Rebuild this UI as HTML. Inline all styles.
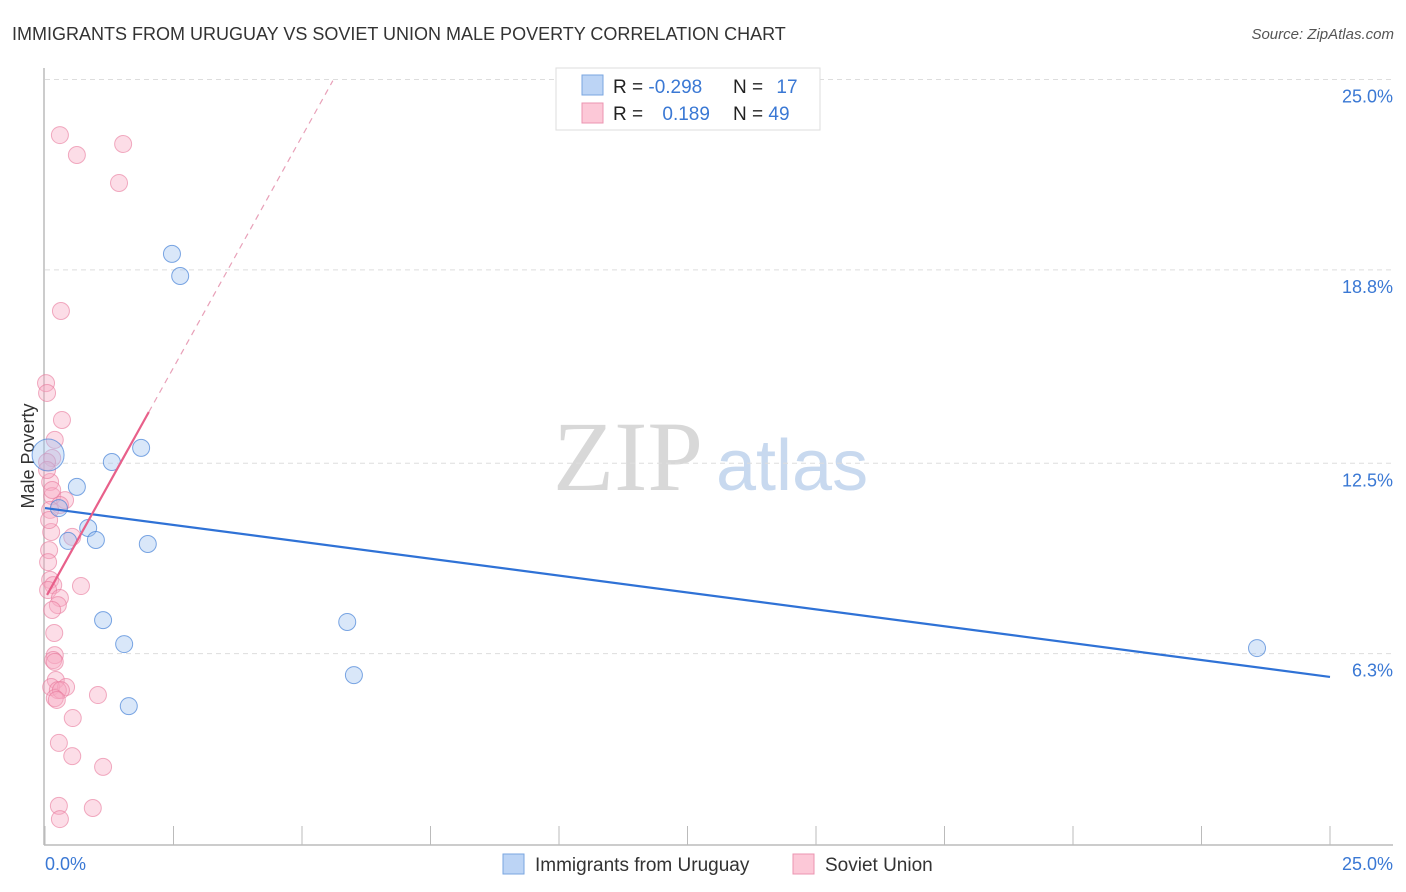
<!DOCTYPE html>
<html><head><meta charset="utf-8"><style>
body{margin:0;background:#fff;font-family:"Liberation Sans",sans-serif;}
svg{display:block}
</style></head><body>
<svg id="chart" width="1406" height="892" xmlns="http://www.w3.org/2000/svg">
<text x="12" y="40" font-size="18" fill="#333">IMMIGRANTS FROM URUGUAY VS SOVIET UNION MALE POVERTY CORRELATION CHART</text>
<text x="1394" y="39" font-size="15" fill="#555" font-style="italic" text-anchor="end">Source: ZipAtlas.com</text>
<g>
<text x="553" y="490" font-size="100" font-family="Liberation Serif,serif" fill="#d8d8d8">ZIP</text>
<text x="716" y="490" font-size="72" fill="#c8d9ef">atlas</text>
</g>
<g id="grid"></g>
<line x1="44" y1="68" x2="44" y2="845" stroke="#bbb" stroke-width="1.5"/>
<line x1="44" y1="845" x2="1393" y2="845" stroke="#bbb" stroke-width="1.5"/>
<g id="xticks"></g>
<g id="ylabels"></g>
<text x="34" y="456" font-size="18" fill="#333" text-anchor="middle" transform="rotate(-90 34 456)">Male Poverty</text>
<text x="45" y="870" font-size="18" fill="#3a78d4">0.0%</text>
<text x="1393" y="870" font-size="18" fill="#3a78d4" text-anchor="end">25.0%</text>
<g id="pts"></g>
<g id="lines"></g>
<g>
<rect x="556" y="68" width="264" height="62" fill="#fff" stroke="#ddd"/>
<rect x="582" y="75" width="21" height="20" fill="#bcd4f5" stroke="#7aa6e0"/>
<rect x="582" y="103" width="21" height="20" fill="#fcc8d7" stroke="#eb94b0"/>
<text x="613" y="93" font-size="19" fill="#222">R = <tspan fill="#3a78d4">-0.298</tspan></text>
<text x="733" y="93" font-size="19" fill="#222">N = <tspan fill="#3a78d4" dx="8">17</tspan></text>
<text x="613" y="120" font-size="19" fill="#222">R = <tspan fill="#3a78d4" dx="14">0.189</tspan></text>
<text x="733" y="120" font-size="19" fill="#222">N = <tspan fill="#3a78d4">49</tspan></text>
</g>
<g>
<rect x="503" y="854" width="21" height="20" fill="#bcd4f5" stroke="#7aa6e0"/>
<text x="535" y="871" font-size="19" fill="#333">Immigrants from Uruguay</text>
<rect x="793" y="854" width="21" height="20" fill="#fcc8d7" stroke="#eb94b0"/>
<text x="825" y="871" font-size="19" fill="#333">Soviet Union</text>
</g>
</svg>
<script>
const yTicks=[6.3,12.5,18.8,25.0];
const xTickVals=[0,2.5,5,7.5,10,12.5,15,17.5,20,22.5,25];
const blueX=[2.47,2.63,1.87,1.30,0.62,0.27,0.84,0.45,0.99,2.00,1.13,1.54,5.88,6.01,1.63,23.58,0.06];
const blueY=[19.32,18.60,13.0,12.54,11.73,11.04,10.39,9.97,10.0,9.87,7.39,6.61,7.33,5.60,4.59,6.48,12.77];
const pinkX=[0.29,0.62,1.52,1.44,0.31,0.02,0.04,0.33,0.19,0.14,0.10,0.14,0.39,0.29,0.10,0.53,0.12,0.08,0.06,0.10,0.16,0.70,0.06,0.29,0.25,0.14,0.18,0.19,0.16,0.19,0.21,0.12,0.41,0.25,0.31,1.03,0.19,0.23,0.54,0.27,0.53,1.13,0.27,0.93,0.29,0.04,0.04,0.08,0.14];
const pinkY=[23.19,22.54,22.90,21.63,17.46,15.11,14.79,13.91,13.26,12.67,11.89,11.43,11.30,11.14,10.98,10.10,10.26,9.67,9.28,8.70,8.53,8.50,8.37,8.11,7.88,7.72,6.97,6.25,6.09,6.03,5.44,5.21,5.21,5.11,5.11,4.95,4.85,4.79,4.20,3.39,2.96,2.61,1.34,1.27,0.91,12.54,12.28,10.65,11.63];
const blueTrend=[[0,11.04],[25,5.54]];
const pinkTrend=[[0.04,8.21],[2.02,14.17]];
const pinkDash=[[2.02,14.17],[5.6,24.96]];
const NS='http://www.w3.org/2000/svg';
const X=v=>45+v*51.4, Y=v=>847-v*30.7;
function mk(tag,attrs,parent){const e=document.createElementNS(NS,tag);for(const k in attrs)e.setAttribute(k,attrs[k]);document.getElementById(parent).appendChild(e);return e;}
yTicks.forEach(t=>{
 const l=mk('line',{x1:45,x2:1393,y1:Y(t),y2:Y(t),stroke:'#ddd','stroke-dasharray':'5,4'},'grid');
 
 
 const tx=mk('text',{x:1393,y:Y(t)+23,'font-size':18,fill:'#3a78d4','text-anchor':'end'},'ylabels');
 tx.textContent=t.toFixed(1)+'%';
 
 
});
xTickVals.forEach(t=>{
 const l=mk('line',{x1:X(t),x2:X(t),y1:826,y2:845,stroke:'#bbb'},'xticks');
 
 
});
pinkX.forEach((v,i)=>{
 const c=mk('circle',{cx:X(v),cy:Y(pinkY[i]),r:8.5,fill:'rgba(248,170,195,0.4)',stroke:'rgba(232,120,155,0.6)'},'pts');
 
 
});
blueX.forEach((v,i)=>{
 const r=i===16?16:8.5;
 const c=mk('circle',{cx:X(v),cy:Y(blueY[i]),r:r,fill:'rgba(160,195,240,0.4)',stroke:'rgba(70,130,215,0.7)'},'pts');
 
 
});
function ln(p,st,w,dash,name){const l=mk('line',{x1:X(p[0][0]),y1:Y(p[0][1]),x2:X(p[1][0]),y2:Y(p[1][1]),stroke:st,'stroke-width':w},'lines');if(dash)l.setAttribute('stroke-dasharray',dash);
 
 }
ln(blueTrend,'#2f72d6',2.2,null,'uruguay-trend-line');
ln(pinkTrend,'#e8608a',2.2,null,'soviet-trend-line');
ln(pinkDash,'#e8a0b8',1.2,'6,5','soviet-trend-extension');
</script>
</body></html>
